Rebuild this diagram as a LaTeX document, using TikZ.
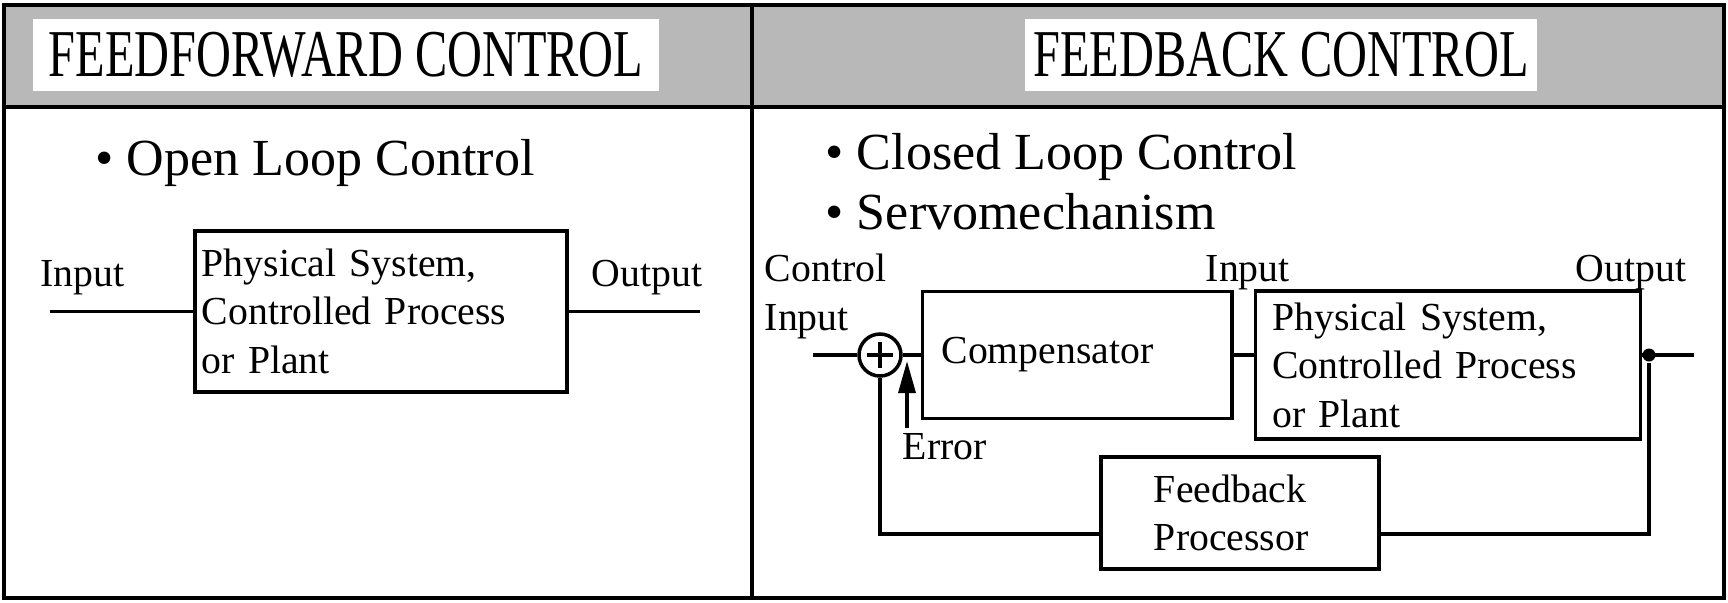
\documentclass[tikz,border=0pt]{standalone}
\usepackage{fontspec}
\setmainfont{Liberation Serif}
\usepackage{graphicx}
\usetikzlibrary{arrows.meta, positioning}
\definecolor{bandgray}{gray}{0.72}

\begin{document}
\begin{tikzpicture}[
    x=0.01cm, y=-0.01cm,
    line width=1pt,
    block/.style={rectangle, draw, line width=1pt, align=left, inner xsep=0.07cm, font=\fontsize{11.3}{13.8}\selectfont},
    title/.style={rectangle, fill=white, inner sep=0pt, minimum height=0.71cm, font=\fontsize{13.6}{16}\selectfont},
    bullet/.style={inner sep=0pt, anchor=base west, font=\fontsize{14.8}{17}\selectfont},
    labeltext/.style={inner sep=0pt, anchor=base west, font=\fontsize{11.3}{13.8}\selectfont},
    sum/.style={circle, draw, minimum size=0.42cm, inner sep=0pt},
    dot/.style={circle, fill, inner sep=0pt, minimum size=0.13cm},
    arrow/.style={-{Triangle[length=0.32cm, width=0.17cm]}}
]
\useasboundingbox (0,0) rectangle (1728,602);
\fill [bandgray] (4,5) rectangle (1724,107);
\draw [line width=1.3pt] (4,107) -- (1724,107);
\draw [line width=1.4pt] (4,5) rectangle (1724,598);
\draw [line width=1.2pt] (752,5) -- (752,598);

\node (ffwd) [title, minimum width=6.26cm] at (346,55) {\scalebox{1.01}[1.4]{FEEDFORWARD CONTROL}};
\node (fback) [title, minimum width=5.12cm] at (1281,55) {\scalebox{1.01}[1.4]{FEEDBACK CONTROL}};

\node (open) [bullet] at (94,175) {\textbullet\ Open Loop Control};
\node (plantL) [block, anchor=north west, text width=3.58cm, minimum height=1.61cm] at (193,229) {Physical System,\\Controlled Process\\or Plant};
\node (inL) [labeltext] at (39,286) {Input};
\node (outL) [labeltext] at (590,286) {Output};
\coordinate [left=1.43cm of plantL.west] (inLstart);
\coordinate [right=1.31cm of plantL.east] (outLend);
\draw (inLstart) -- (plantL.west);
\draw (plantL.east) -- (outLend);

\node (closed) [bullet] at (824,169) {\textbullet\ Closed Loop Control};
\node (servo) [bullet] at (824,229) {\textbullet\ Servomechanism};
\node (ctrl) [labeltext] at (763,281) {Control};
\node (ctrlin) [labeltext] at (763,330) {Input};
\node (sum) [sum] at (880,355) {};
\node (comp) [block, right=0.18cm of sum, text width=2.71cm, inner xsep=0.19cm, minimum height=1.27cm] {Compensator};
\node (plantR) [block, right=0.2cm of comp, yshift=-0.1cm, text width=3.51cm, inner xsep=0.17cm, minimum height=1.44cm] {Physical System,\\Controlled Process\\or Plant};
\node (inR) [labeltext] at (1204,281) {Input};
\node (outR) [labeltext] at (1574,281) {Output};
\node (fb) [block, text width=1.72cm, inner xsep=0.53cm, minimum height=1.12cm] at (1240,513) {Feedback\\Processor};
\node (tap) [dot] at (1649,355) {};
\coordinate (refin) at (813,355);
\coordinate (sysout) at (1694,355);
\coordinate (errtail) at (907,428);
\coordinate (errtip) at (907,361);

\draw ([yshift=0.13cm]sum.center) -- ([yshift=-0.13cm]sum.center);
\draw ([xshift=-0.13cm]sum.center) -- ([xshift=0.13cm]sum.center);
\draw (refin) -- (sum.west);
\draw (sum.east) -- (comp.west);
\draw (comp.east) -- (comp.east -| plantR.west);
\draw (comp.east -| plantR.east) -- (sysout);
\draw (tap) |- ([yshift=-0.21cm]fb.east);
\draw ([yshift=-0.21cm]fb.west) -| (sum.south);
\draw [arrow] (errtail) -- (errtip);
\node (err) [labeltext] at (901,459) {Error};
\end{tikzpicture}
\end{document}
